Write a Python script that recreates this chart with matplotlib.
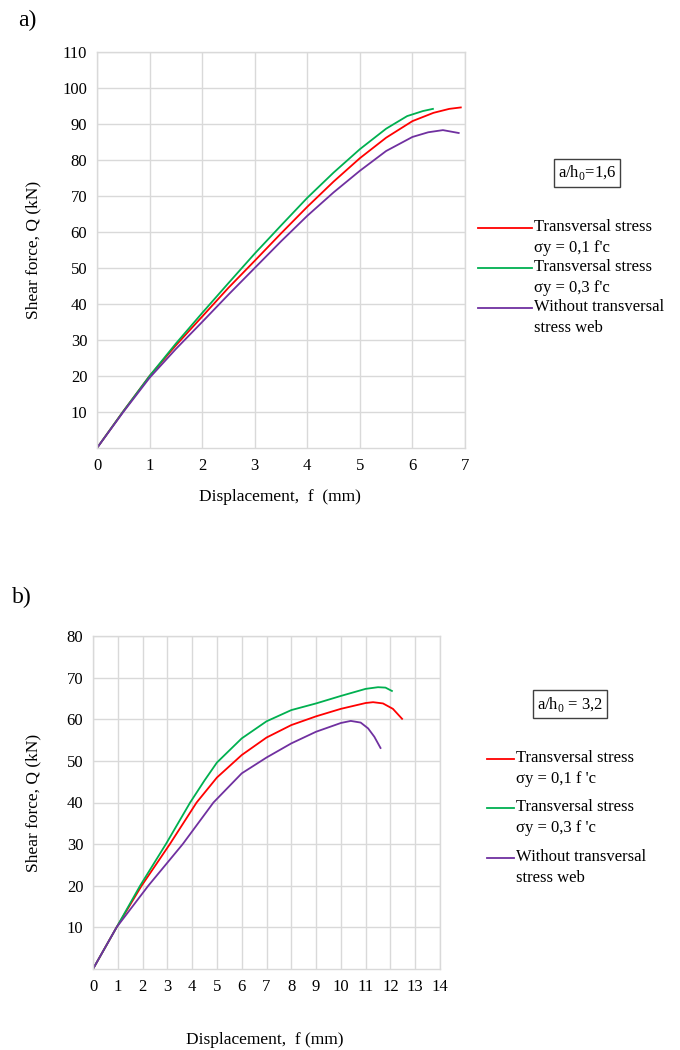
import matplotlib.pyplot as plt
from matplotlib.lines import Line2D

plt.rcParams['font.family'] = ['Liberation Serif', 'DejaVu Serif']
plt.rcParams['mathtext.fontset'] = 'custom'
plt.rcParams['mathtext.rm'] = 'Liberation Serif'

RED = '#FF0000'
GREEN = '#00B050'
PURPLE = '#7030A0'
GRID = '#D9D9D9'

# panel a) a/h0 = 1,6
a_x_red = [0, 0.5, 1, 1.5, 2, 2.5, 3, 3.5, 4, 4.5, 5, 5.5, 6, 6.4, 6.7, 6.92]
a_q_red = [0, 10.2, 20, 28.5, 36.5, 44.5, 52, 59.6, 67, 74, 80.5, 86.2, 90.8, 93.1, 94.2, 94.6]
a_x_green = [0, 0.5, 1, 1.5, 2, 2.5, 3, 3.5, 4, 4.5, 5, 5.5, 5.9, 6.2, 6.39]
a_q_green = [0, 10.2, 20, 29, 37.5, 45.8, 54, 61.8, 69.5, 76.5, 83, 88.7, 92.2, 93.6, 94.2]
a_x_purple = [0, 0.5, 1, 1.5, 2, 2.5, 3, 3.5, 4, 4.5, 5, 5.5, 6, 6.3, 6.58, 6.88]
a_q_purple = [0, 10, 19.5, 27.5, 35, 42.6, 50, 57.4, 64.5, 71, 77, 82.5, 86.4, 87.7, 88.3, 87.5]

# panel b) a/h0 = 3,2
b_x_red = [0, 0.95, 1.96, 3.1, 4.18, 5, 6, 7, 8, 9, 10, 11, 11.3, 11.7, 12.1, 12.47]
b_q_red = [0, 10, 20, 30, 40, 46, 51.4, 55.6, 58.6, 60.7, 62.5, 63.9, 64.1, 63.8, 62.5, 60.1]
b_x_green = [0, 0.95, 1.9, 2.94, 3.92, 4.5, 5, 6, 7, 8, 9, 10, 11, 11.5, 11.8, 12.06]
b_q_green = [0, 10, 20, 30, 40, 45.3, 49.6, 55.4, 59.5, 62.2, 63.8, 65.6, 67.3, 67.7, 67.6, 66.8]
b_x_purple = [0, 0.95, 2.23, 3.62, 4.86, 6, 7, 8, 9, 10, 10.4, 10.8, 11.1, 11.35, 11.6]
b_q_purple = [0, 10, 20, 30, 40, 47, 50.8, 54.2, 57, 59.1, 59.6, 59.2, 57.8, 55.8, 53.1]

labels = ["Transversal stress\n\u03c3y = 0,1 f'c",
          "Transversal stress\n\u03c3y = 0,3 f'c",
          "Without transversal\nstress web"]
labels_b = ["Transversal stress\n\u03c3y = 0,1 f 'c",
            "Transversal stress\n\u03c3y = 0,3 f 'c",
            "Without transversal\nstress web"]

W, H = 680, 1050
fig = plt.figure(figsize=(6.8, 10.5), dpi=100)


def style(ax, xmax, ymax):
    ax.set_xlim(0, xmax)
    ax.set_ylim(0, ymax)
    ax.set_xticks(range(0, xmax + 1))
    ax.set_yticks(range(10, ymax + 1, 10))
    ax.grid(True, color=GRID, linewidth=1)
    ax.set_axisbelow(True)
    for s in ax.spines.values():
        s.set_color(GRID)
        s.set_linewidth(1)
    ax.tick_params(length=0, labelsize=12, pad=7, colors='black')


# ---- a)
axa = fig.add_axes([97 / W, 1 - 448 / H, 368 / W, 396 / H])
style(axa, 7, 110)
axa.plot(a_x_red, a_q_red, color=RED, lw=1.3)
axa.plot(a_x_green, a_q_green, color=GREEN, lw=1.3)
axa.plot(a_x_purple, a_q_purple, color=PURPLE, lw=1.3)
axa.set_xlabel('Displacement,  f  (mm)', fontsize=12.5, va='center')
axa.set_ylabel('Shear force, Q (kN)', fontsize=12.5, va='center')
axa.xaxis.set_label_coords(0.497, (448 - 497) / 396)
axa.yaxis.set_label_coords((33 - 97) / 368, 0.5)

# ---- b)
axb = fig.add_axes([93 / W, 1 - 969 / H, 347 / W, 333 / H])
style(axb, 14, 80)
axb.plot(b_x_red, b_q_red, color=RED, lw=1.3)
axb.plot(b_x_green, b_q_green, color=GREEN, lw=1.3)
axb.plot(b_x_purple, b_q_purple, color=PURPLE, lw=1.3)
axb.set_xlabel('Displacement,  f (mm)', fontsize=12.5, va='center')
axb.set_ylabel('Shear force, Q (kN)', fontsize=12.5, va='center')
axb.xaxis.set_label_coords(0.496, (969 - 1040) / 333)
axb.yaxis.set_label_coords((33 - 93) / 347, 0.5)

fig.text(18 / W, 1 - 20 / H, 'a)', fontsize=17, va='center', ha='left')
fig.text(12 / W, 1 - 597 / H, 'b)', fontsize=17, va='center', ha='left')

box = dict(boxstyle='square,pad=0.25', facecolor='white', edgecolor='#404040', lw=1)
fig.text(587 / W, 1 - 173 / H, r'a/h$_0$=1,6', fontsize=12, ha='center', va='center', bbox=box)
fig.text(570 / W, 1 - 704 / H, r'a/h$_0$ = 3,2', fontsize=12, ha='center', va='center', bbox=box)


def legend(x0, x1, tx, ys, labs):
    for y, col, lab in zip(ys, [RED, GREEN, PURPLE], labs):
        fig.add_artist(Line2D([x0 / W, x1 / W], [1 - y / H, 1 - y / H], color=col, lw=1.3))
        fig.text(tx / W, 1 - (y - 9) / H, lab, fontsize=12, ha='left', va='top', linespacing=1.38)


legend(478, 532, 534, [228, 268, 308], labels)
legend(487, 514, 516, [759, 808, 858], labels_b)

fig.savefig('out.png', dpi=100)
